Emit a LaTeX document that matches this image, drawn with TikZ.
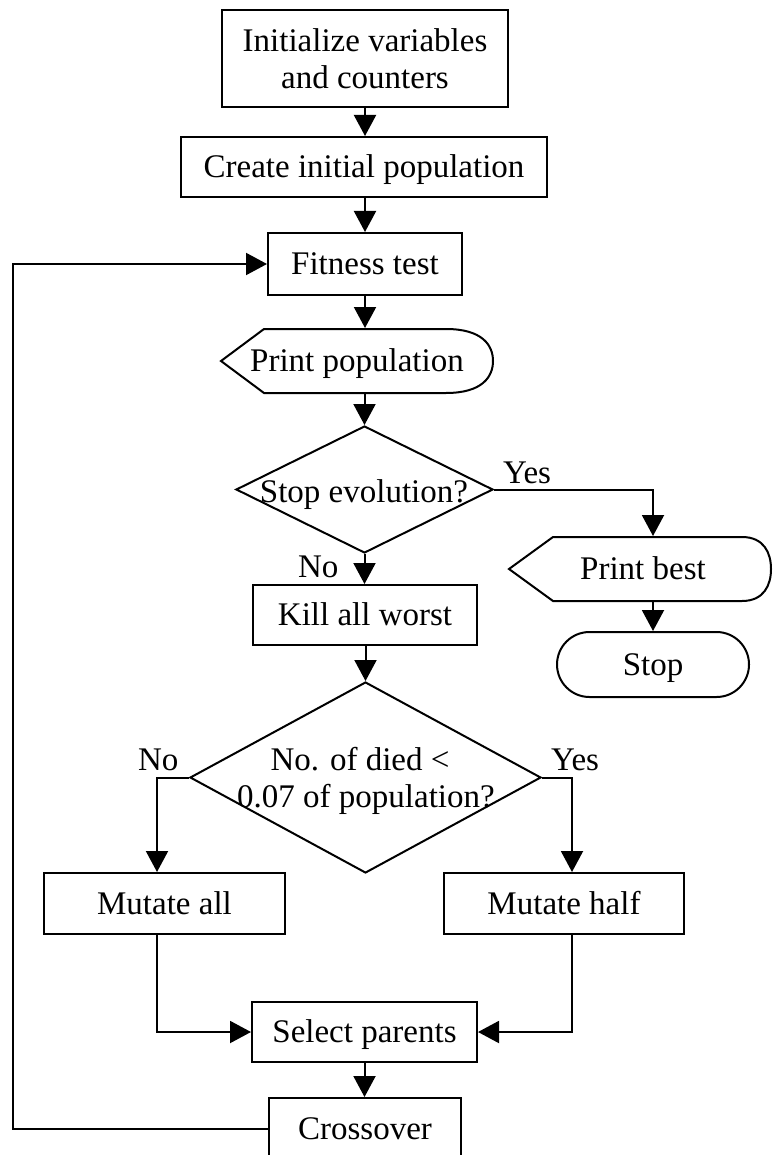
\documentclass[tikz,border=0pt]{standalone}
\usepackage{fontspec}
\setmainfont{Liberation Serif}
\usetikzlibrary{arrows.meta,shapes.geometric,shapes.misc}
\begin{document}
\begin{tikzpicture}[x=1pt,y=-1pt,
  line width=2pt,
  every node/.style={font=\fontsize{33}{37}\selectfont, inner sep=0pt},
  txt/.style={text height=21.5pt, text depth=0pt},
  box/.style={draw, rectangle, txt},
  dia/.style={draw, diamond},
  arr/.style={-{Triangle[length=21pt,width=22pt]}}]
\useasboundingbox (0,0) rectangle (773,1155);

% nodes
\node[box, text height=, text depth=, minimum width=286pt, minimum height=97pt, align=center] (init) at (365,58.5) {Initialize variables\\and counters};
\node[box, minimum width=366pt, minimum height=60pt] (create) at (364,167) {Create initial population};
\node[box, minimum width=194pt, minimum height=62pt] (fit) at (365,264) {Fitness test};

\node[txt, minimum width=272pt, minimum height=64pt] (pp) at (357,361) {Print population};
\draw (221,361) -- (264,329) -- (446,329) .. controls (482,329) and (493,345) .. (493,361)
      .. controls (493,377) and (482,393) .. (446,393) -- (264,393) -- cycle;

\node[dia, minimum width=257pt, minimum height=127pt] (d1) at (364.5,489.5) {};
\node[anchor=base] (d1t) at (364,502) {Stop evolution?};
\node[anchor=base west] (yes1) at (502,483) {Yes};
\node[anchor=base west] (no1) at (297,577) {No};

\node[box, minimum width=224pt, minimum height=60pt] (kill) at (365,615) {Kill all worst};

\node[txt, minimum width=200pt, minimum height=64pt] (pb) at (643,569) {Print best};
\draw (509,569) -- (553,537) -- (742,537) .. controls (764,537) and (771,553) .. (771,569)
      .. controls (771,585) and (764,601) .. (742,601) -- (553,601) -- cycle;

\node[draw, rounded rectangle, txt, minimum width=192pt, minimum height=65pt] (stop) at (653,664.5) {Stop};

\node[dia, minimum width=351pt, minimum height=191pt] (d2) at (365.5,777.5) {};
\node[anchor=base] (d2a) at (360,770) {No. of died <};
\node[anchor=base] (d2b) at (366,807) {0.07 of population?};
\node[anchor=base west] (no2) at (137,770) {No};
\node[anchor=base west] (yes2) at (550,770) {Yes};

\node[box, minimum width=241pt, minimum height=61pt] (mall) at (164.5,903.5) {Mutate all};
\node[box, minimum width=240pt, minimum height=61pt] (mhalf) at (564,903.5) {Mutate half};
\node[box, minimum width=225pt, minimum height=60pt] (sel) at (364.5,1032) {Select parents};
\node[box, minimum width=192pt, minimum height=62pt] (cross) at (365,1129) {Crossover};

% connectors
\draw[arr] (init.south) -- (init.south |- create.north);
\draw[arr] (create.south -| fit.north) -- (fit.north);
\draw[arr] (fit.south) -- (fit.south |- pp.north);
\draw[arr] (d1.north |- pp.south) -- (d1.north);
\draw[arr] (d1.east) -| (stop.north |- pb.north);
\draw[arr] (stop.north |- pb.south) -- (stop.north);
\draw[arr] (d1.south) -- (d1.south |- kill.north);
\draw[arr] (d2.north |- kill.south) -- (d2.north);
\coordinate (mallin) at ([xshift=-7.5pt]mall.north);
\coordinate (mhalfin) at ([xshift=8pt]mhalf.north);
\draw[arr] (d2.west) -| (mallin);
\draw[arr] (d2.east) -| (mhalfin);
\draw[arr] ([xshift=-7.5pt]mall.south) |- (sel.west);
\draw[arr] ([xshift=8pt]mhalf.south) |- (sel.east);
\draw[arr] (sel.south) -- (sel.south |- cross.north);
\coordinate (fb) at (13,1129);
\draw[arr] (cross.west) -- (fb) |- (fit.west);
\end{tikzpicture}
\end{document}
